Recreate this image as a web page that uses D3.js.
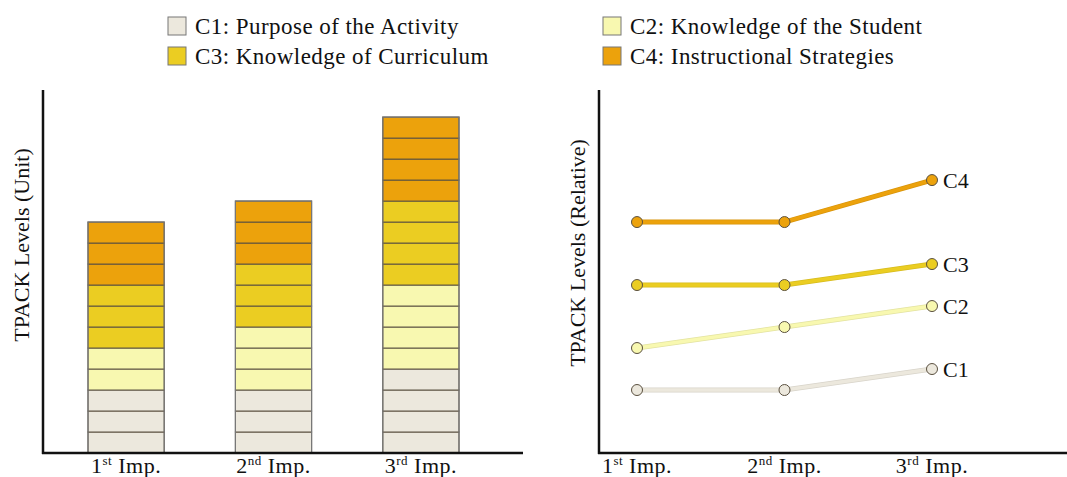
<!DOCTYPE html>
<html><head><meta charset="utf-8">
<script src="https://cdn.jsdelivr.net/npm/d3@7"></script>
<style>body{margin:0;background:#fff}svg{display:block}text{font-family:"Liberation Serif","Times New Roman",serif;fill:#111}</style>
</head><body><svg id="c" width="1067" height="477"></svg>
<script>
const ordinals = ["1", "2", "3"];
const suffixes = ["st", "nd", "rd"];
const seriesNames = ["C1", "C2", "C3", "C4"];
const legendLabels = ["C1: Purpose of the Activity", "C2: Knowledge of the Student", "C3: Knowledge of Curriculum", "C4: Instructional Strategies"];
const colors = ["#ECE8DD", "#F8F8B0", "#EBCD22", "#ECA20C"];
// unit counts per implementation (left chart)
const unitC1 = [3, 3, 4];
const unitC2 = [2, 3, 4];
const unitC3 = [3, 3, 4];
const unitC4 = [3, 3, 4];
// relative levels (right chart)
const relC1 = [3, 3, 4];
const relC2 = [5, 6, 7];
const relC3 = [8, 8, 9];
const relC4 = [11, 11, 13];

const units = [unitC1, unitC2, unitC3, unitC4];
const rels = [relC1, relC2, relC3, relC4];
const svg = d3.select("#c");

const y = d3.scaleLinear().domain([0, 17.29]).range([453, 90]);

// ---------- Left chart ----------
const xb = d3.scaleBand().domain(ordinals).range([88, 459]).paddingInner(0.483).paddingOuter(0);
const gL = svg.append("g");
ordinals.forEach((o, i) => {
  let cum = 0;
  units.forEach((arr, s) => {
    for (let k = 0; k < arr[i]; k++) {
      const v = cum + k;
      gL.append("rect")
        .attr("x", xb(o)).attr("width", xb.bandwidth())
        .attr("y", y(v + 1)).attr("height", y(v) - y(v + 1))
        .attr("fill", colors[s]).attr("stroke", "#5a5040").attr("stroke-width", 1);
    }
    cum += arr[i];
  });
  gL.append("rect").attr("x", xb(o)).attr("width", xb.bandwidth())
    .attr("y", y(cum)).attr("height", y(0) - y(cum))
    .attr("fill", "none").attr("stroke", "#777").attr("stroke-width", 1.2);
});
gL.append("line").attr("x1", 43).attr("x2", 43).attr("y1", 90).attr("y2", 454).attr("stroke", "#111").attr("stroke-width", 2.5);
gL.append("line").attr("x1", 42).attr("x2", 523).attr("y1", 453).attr("y2", 453).attr("stroke", "#111").attr("stroke-width", 2.5);

function tickLabel(g, cx, i) {
  const t = g.append("text").attr("x", cx).attr("y", 473).attr("text-anchor", "middle")
    .style("font-size", "22px").style("letter-spacing", "0.5px");
  t.append("tspan").text(ordinals[i]);
  t.append("tspan").text(suffixes[i]).style("font-size", "13px").attr("dy", -8);
  t.append("tspan").text(" Imp.").attr("dy", 8);
}
ordinals.forEach((o, i) => tickLabel(gL, xb(o) + xb.bandwidth() / 2, i));
gL.append("text").attr("transform", "translate(29,245) rotate(-90)").attr("text-anchor", "middle")
  .style("font-size", "22px").text("TPACK Levels (Unit)");

// ---------- Right chart ----------
const xp = d3.scalePoint().domain(ordinals).range([637, 932]);
const gR = svg.append("g");
gR.append("line").attr("x1", 599).attr("x2", 599).attr("y1", 90).attr("y2", 454).attr("stroke", "#111").attr("stroke-width", 2.5);
gR.append("line").attr("x1", 598).attr("x2", 1067).attr("y1", 453).attr("y2", 453).attr("stroke", "#111").attr("stroke-width", 2.5);
const line = d3.line().x((d, i) => xp(ordinals[i])).y(d => y(d));
rels.forEach((arr, s) => {
  gR.append("path").attr("d", line(arr)).attr("fill", "none")
    .attr("stroke", d3.color(colors[s]).darker(0.25)).attr("stroke-width", 5);
  gR.append("path").attr("d", line(arr)).attr("fill", "none")
    .attr("stroke", colors[s]).attr("stroke-width", 3.5);
  arr.forEach((v, i) => {
    gR.append("circle").attr("cx", xp(ordinals[i])).attr("cy", y(v)).attr("r", 5.5)
      .attr("fill", colors[s]).attr("stroke", "#5a5040").attr("stroke-width", 1);
  });
  gR.append("text").attr("x", xp(ordinals[2]) + 11).attr("y", y(arr[2])).attr("dy", "0.35em")
    .style("font-size", "22px").text(seriesNames[s]);
});
ordinals.forEach((o, i) => tickLabel(gR, xp(o), i));
gR.append("text").attr("transform", "translate(585,253) rotate(-90)").attr("text-anchor", "middle")
  .style("font-size", "22px").text("TPACK Levels (Relative)");

// ---------- Legend ----------
const legPos = [[168, 17], [603, 17], [168, 47], [603, 47]];
legendLabels.forEach((lab, s) => {
  const [lx, ly] = legPos[s];
  svg.append("rect").attr("x", lx).attr("y", ly).attr("width", 18).attr("height", 18)
    .attr("fill", colors[s]).attr("stroke", "#777").attr("stroke-width", 1);
  svg.append("text").attr("x", lx + 27).attr("y", ly + 9).attr("dy", "0.35em")
    .style("font-size", "23px").style("letter-spacing", "0.45px").text(lab);
});
</script></body></html>
